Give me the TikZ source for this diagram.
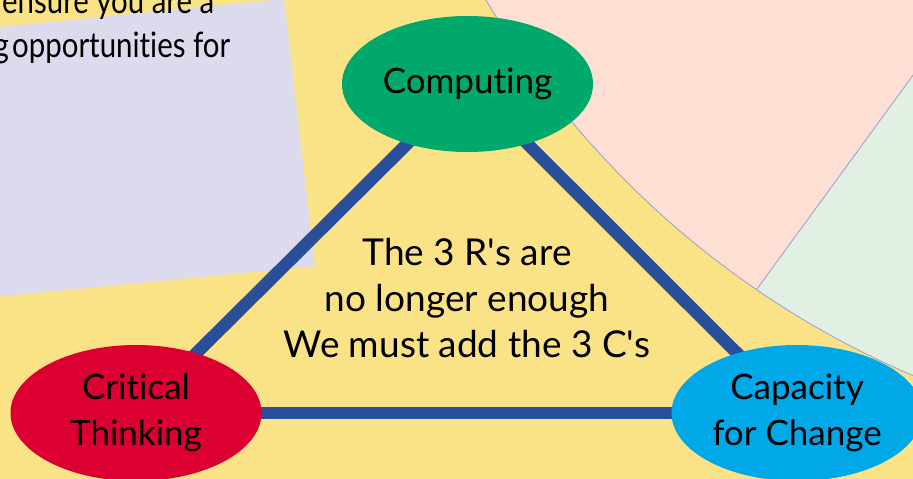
\documentclass[tikz,border=0pt]{standalone}
\usepackage{fontspec}
\setmainfont{Lato}[Ligatures={TeX,NoCommon}]
\usetikzlibrary{shapes.geometric}
\definecolor{bgyellow}{RGB}{250,227,134}
\definecolor{lavbox}{RGB}{220,218,237}
\definecolor{pinkslice}{RGB}{253,224,211}
\definecolor{greenslice}{RGB}{226,239,227}
\definecolor{sliceline}{RGB}{160,162,210}
\definecolor{trilines}{RGB}{42,78,154}
\definecolor{compgreen}{RGB}{0,168,107}
\definecolor{critred}{RGB}{220,0,50}
\definecolor{capblue}{RGB}{0,168,232}
\pgfdeclarelayer{bglayer}
\pgfdeclarelayer{linelayer}
\pgfsetlayers{bglayer,linelayer,main}
\tikzset{
  cnode/.style={ellipse, minimum width=251pt, minimum height=136pt, inner sep=0pt,
    align=center, font=\fontsize{35}{46}\selectfont, text=black},
  triline/.style={draw=trilines, line width=12.5pt},
  bodytext/.style={font=\fontsize{37}{46}\selectfont, text=black, inner sep=0pt},
  cardtext/.style={font=\fontsize{35}{44}\selectfont, text=black, inner sep=0pt},
}
\begin{document}
\begin{tikzpicture}[x=1pt,y=-1pt]
\useasboundingbox (0,0) rectangle (913,479);
\begin{pgfonlayer}{bglayer}
  \fill[bgyellow] (0,0) rectangle (913,479);
  % pie slices
  \fill[pinkslice] (1269,-460) circle[radius=908];
  \begin{scope}
    \clip (1269,-460) circle[radius=908];
    \fill[greenslice] (757,289) -- (1050,-113) -- (1050,700) -- (757,700) -- cycle;
  \end{scope}
  \draw[sliceline, line width=0.9pt] (1269,-460) circle[radius=908];
  \draw[sliceline, line width=0.9pt] (757,289) -- (1000,-44);
  % lavender card
  \fill[lavbox] (-50,31.9) -- (284,-1) -- (315,266) -- (-50,301.4) -- cycle;
  \node[cardtext, anchor=base west] (l1) at (2,13) {\scalebox{0.84}[1]{ensure you are a}};
  \node[cardtext, anchor=base east] (l2a) at (9,57) {\scalebox{0.84}[1]{g}};
  \node[cardtext, anchor=base west] (l2b) at (12,57) {\scalebox{0.84}[1]{opportunities for}};
\end{pgfonlayer}

\node[cnode, fill=compgreen] (comp) at (467.5,84) {Computing};
\node[cnode, fill=critred] (crit) at (136,413) {Critical\\Thinking};
\node[cnode, fill=capblue] (cap) at (797,413) {Capacity\\for Change};

\begin{pgfonlayer}{linelayer}
  \draw[triline] (comp.center) -- (crit.center);
  \draw[triline] (comp.center) -- (cap.center);
  \draw[triline] (crit.center) -- (cap.center);
\end{pgfonlayer}

\node[bodytext, align=center, anchor=base] (msg) at (467,357)
  {The 3 R\textquotesingle s are\\no longer enough\\We must add the 3 C\textquotesingle s};
\end{tikzpicture}
\end{document}
